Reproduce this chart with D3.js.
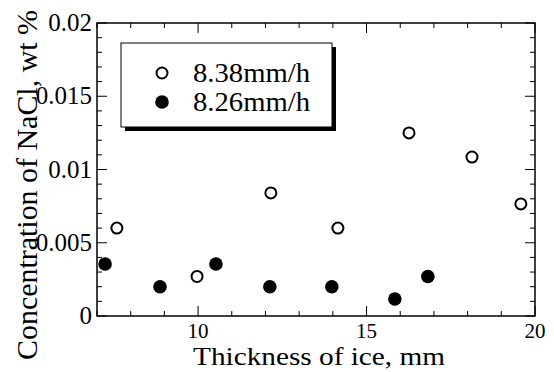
<!DOCTYPE html>
<html>
<head>
<meta charset="utf-8">
<script src="https://cdn.jsdelivr.net/npm/d3@7"></script>
<style>
  body { margin: 0; background: #fff; }
</style>
</head>
<body>
<svg id="chart" width="554" height="372"></svg>
<script>
/* ── DATA ───────────────────────────────────────── */
const seriesNames = ['8.38mm/h', '8.26mm/h'];
const openX   = [7.59, 9.97, 12.16, 14.15, 16.26, 18.13, 19.58];
const openY   = [0.0060, 0.0027, 0.0084, 0.0060, 0.0125, 0.01085, 0.00765];
const filledX = [7.24, 8.87, 10.53, 12.13, 13.97, 15.84, 16.82];
const filledY = [0.00355, 0.0020, 0.00355, 0.0020, 0.0020, 0.00116, 0.0027];
const xTicks  = [10, 15, 20];
const yTicks  = [0, 0.005, 0.01, 0.015, 0.02];
const yTickLabels = ['0', '0.005', '0.01', '0.015', '0.02'];

/* ── LAYOUT ─────────────────────────────────────── */
const FONT = '"Liberation Serif", "Times New Roman", serif';
const M = { left: 97, right: 535, top: 23, bottom: 316 };
const svg = d3.select('#chart');
const x = d3.scaleLinear().domain([7, 20]).range([M.left, M.right]);
const y = d3.scaleLinear().domain([0, 0.02]).range([M.bottom, M.top]);

const g = svg.append('g');
const label = (px, py, size, str) => g.append('text')
  .attr('x', px).attr('y', py).attr('font-family', FONT).attr('font-size', size)
  .attr('fill', '#000').text(str);

// frame
g.append('rect').attr('x', M.left).attr('y', M.top)
  .attr('width', M.right - M.left).attr('height', M.bottom - M.top)
  .attr('fill', 'none').attr('stroke', '#000').attr('stroke-width', 1.5);

// ticks (inward, mirrored on top/right)
const xMinor = d3.range(7, 20.01, 1);
const yMinor = d3.range(0, 21, 1).map(i => i * 0.001);
xMinor.forEach(v => {
  const len = xTicks.includes(v) ? 10 : 5;
  g.append('line').attr('x1', x(v)).attr('x2', x(v)).attr('y1', M.bottom).attr('y2', M.bottom - len).attr('stroke', '#000');
  g.append('line').attr('x1', x(v)).attr('x2', x(v)).attr('y1', M.top).attr('y2', M.top + len).attr('stroke', '#000');
});
yMinor.forEach((v, i) => {
  const len = i % 5 === 0 ? 10 : 5;
  g.append('line').attr('y1', y(v)).attr('y2', y(v)).attr('x1', M.left).attr('x2', M.left + len).attr('stroke', '#000');
  g.append('line').attr('y1', y(v)).attr('y2', y(v)).attr('x1', M.right).attr('x2', M.right - len).attr('stroke', '#000');
});

// tick labels
xTicks.forEach(v => {
  label(x(v), 338, 21, v).attr('text-anchor', 'middle');
});
yTicks.forEach((v, i) => {
  label(92, y(v) + 8, 25, yTickLabels[i]).attr('text-anchor', 'end');
});

// axis titles
label(193, 365, 25, 'Thickness of ice, mm')
  .attr('textLength', 252).attr('lengthAdjust', 'spacingAndGlyphs');
g.append('text').attr('transform', 'translate(37,360) rotate(-90)')
  .attr('font-family', FONT).attr('font-size', 30).attr('fill', '#000')
  .attr('textLength', 350).attr('lengthAdjust', 'spacingAndGlyphs')
  .text('Concentration of NaCl, wt %');

// points
g.selectAll('.open').data(openX).enter().append('circle')
  .attr('cx', d => x(d)).attr('cy', (d, i) => y(openY[i])).attr('r', 5.5)
  .attr('fill', '#fff').attr('stroke', '#000').attr('stroke-width', 2);
g.selectAll('.filled').data(filledX).enter().append('circle')
  .attr('cx', d => x(d)).attr('cy', (d, i) => y(filledY[i])).attr('r', 6.8)
  .attr('fill', '#000');

// legend
const L = { x: 121, y: 43, w: 211, h: 84 };
g.append('rect').attr('x', L.x + 4).attr('y', L.y + 4).attr('width', L.w).attr('height', L.h).attr('fill', '#000');
g.append('rect').attr('x', L.x).attr('y', L.y).attr('width', L.w).attr('height', L.h)
  .attr('fill', '#fff').attr('stroke', '#000').attr('stroke-width', 1);
[73, 102].forEach((ly, i) => {
  if (i === 0) {
    g.append('circle').attr('cx', 162).attr('cy', ly).attr('r', 5.5)
      .attr('fill', '#fff').attr('stroke', '#000').attr('stroke-width', 2);
  } else {
    g.append('circle').attr('cx', 162).attr('cy', ly).attr('r', 6.8).attr('fill', '#000');
  }
  label(193, ly + 9, 28, seriesNames[i]).attr('textLength', 117).attr('lengthAdjust', 'spacingAndGlyphs');
});
</script>
</body>
</html>
